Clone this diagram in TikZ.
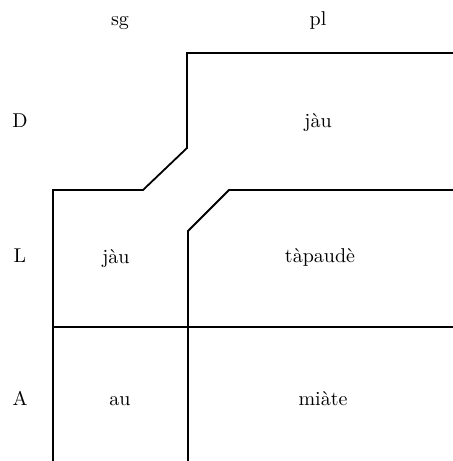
\documentclass[tikz,border=0pt]{standalone}
\usepackage{fontspec}
\usepackage{amsmath}

\begin{document}
\begin{tikzpicture}[x=0.5pt,y=-0.5pt,line width=0.9pt]
        \tikzset{lbl/.style={anchor=base,inner sep=0pt}}
        \useasboundingbox (0,0) rectangle (453,461);
        %\draw[step=50,black,thin] (0,0) grid (453,461);
        \draw (53,461) -- (53,190) -- (143,190) -- (187,148) -- (187,53) -- (453,53);
        \draw (188,461) -- (188,231) -- (229,190) -- (453,190);
        \draw (53,327) -- (453,327);

        \node[lbl] (sg) at (120,25) {sg};
        \node[lbl] (pl) at (318,25) {pl};

        \node[lbl] (D) at (20,127) {D};
        \node[lbl] (L) at (20,262) {L};
        \node[lbl] (A) at (20,405) {A};

        \node[lbl] (plD) at (318,127) {jàu};
        \node[lbl] (sgL) at (116,263) {jàu};
        \node[lbl] (plL) at (320,262) {tàpaudè};
        \node[lbl] (sgA) at (120,405) {au};
        \node[lbl] (plA) at (323,405) {miàte};
    \end{tikzpicture}
\end{document}
